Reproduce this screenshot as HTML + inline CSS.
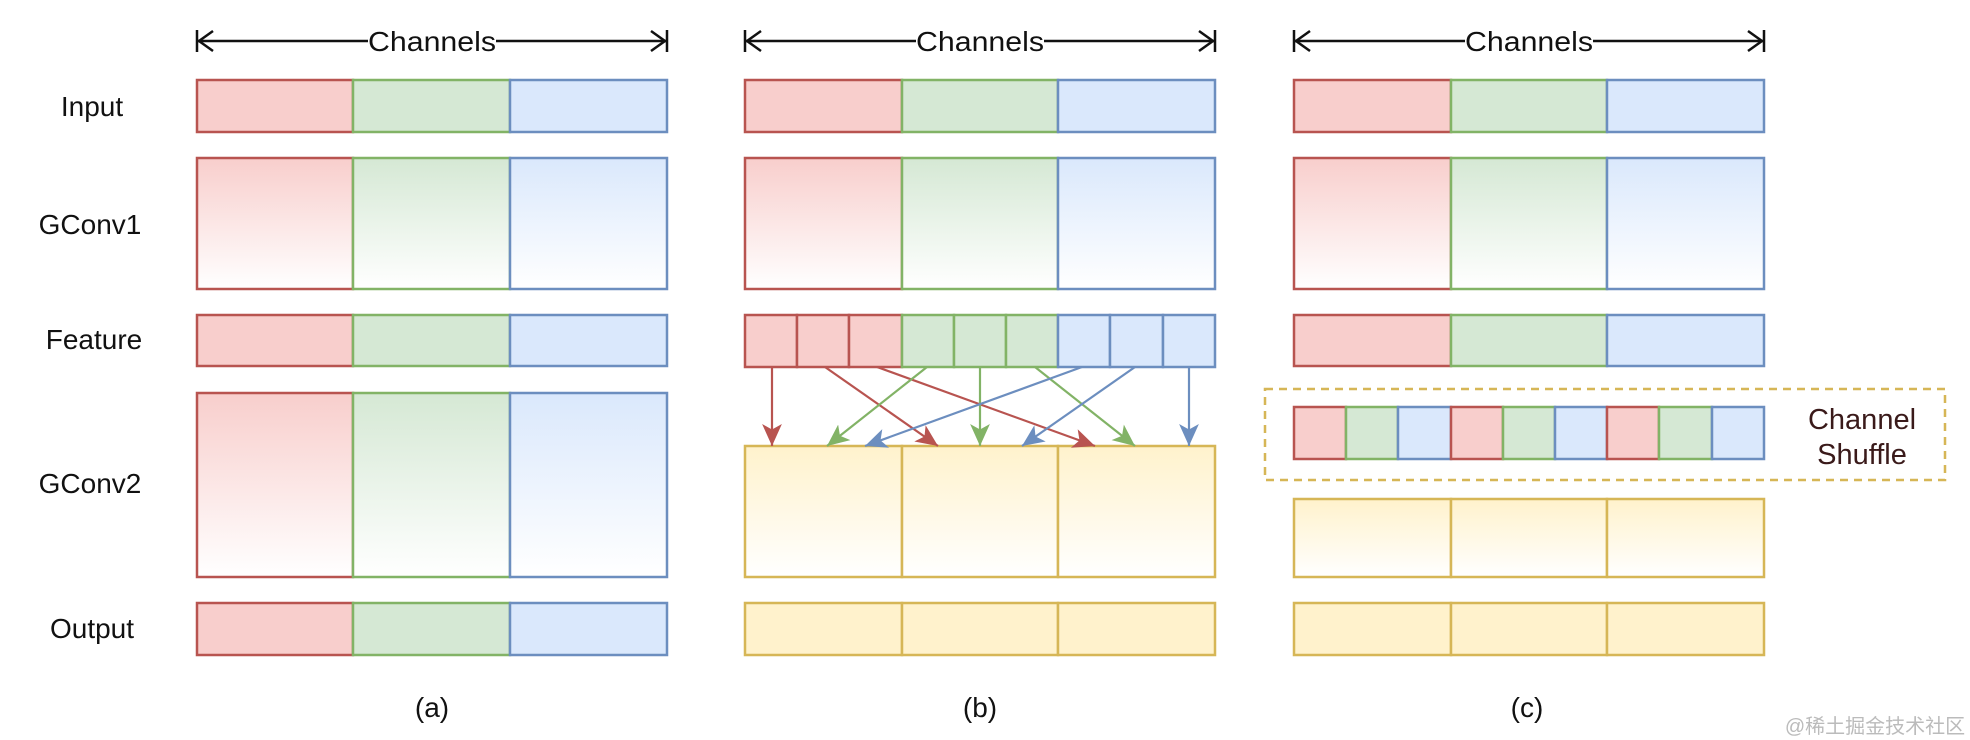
<!DOCTYPE html>
<html><head><meta charset="utf-8"><style>
html,body{margin:0;padding:0;background:#fff;width:1970px;height:740px;overflow:hidden}
svg text{font-family:"Liberation Sans","Noto Sans CJK SC",sans-serif}
</style></head><body>
<svg width="1970" height="740" viewBox="0 0 1970 740" xmlns="http://www.w3.org/2000/svg">
<defs>
<linearGradient id="gr" x1="0" y1="0" x2="0" y2="1"><stop offset="0" stop-color="#f8cecc"/><stop offset="1" stop-color="#fff"/></linearGradient>
<linearGradient id="gg" x1="0" y1="0" x2="0" y2="1"><stop offset="0" stop-color="#d5e8d4"/><stop offset="1" stop-color="#fff"/></linearGradient>
<linearGradient id="gb" x1="0" y1="0" x2="0" y2="1"><stop offset="0" stop-color="#dae8fc"/><stop offset="1" stop-color="#fff"/></linearGradient>
<linearGradient id="gy" x1="0" y1="0" x2="0" y2="1"><stop offset="0" stop-color="#fff2cc"/><stop offset="1" stop-color="#fff"/></linearGradient>
<marker id="mr" viewBox="0 0 20 20" refX="20" refY="10" markerWidth="22" markerHeight="22" orient="auto" markerUnits="userSpaceOnUse"><path d="M0,1 L20,10 L0,19 L5,10 Z" fill="#b85450"/></marker>
<marker id="mg" viewBox="0 0 20 20" refX="20" refY="10" markerWidth="22" markerHeight="22" orient="auto" markerUnits="userSpaceOnUse"><path d="M0,1 L20,10 L0,19 L5,10 Z" fill="#82b366"/></marker>
<marker id="mb" viewBox="0 0 20 20" refX="20" refY="10" markerWidth="22" markerHeight="22" orient="auto" markerUnits="userSpaceOnUse"><path d="M0,1 L20,10 L0,19 L5,10 Z" fill="#6c8ebf"/></marker>
</defs>
<g font-size="28" fill="#111" text-anchor="middle">
<text x="92" y="116">Input</text>
<text x="90" y="234">GConv1</text>
<text x="94" y="349">Feature</text>
<text x="90" y="493">GConv2</text>
<text x="92" y="638">Output</text>
<text x="432" y="717">(a)</text>
<text x="980" y="717">(b)</text>
<text x="1527" y="717">(c)</text>
</g>
<g stroke="#111" stroke-width="2.5" fill="none">
<path d="M197,30 V52 M667,30 V52 M745,30 V52 M1215,30 V52 M1294,30 V52 M1764,30 V52"/>
<path d="M197,41 H368 M496,41 H667 M745,41 H916 M1044,41 H1215 M1294,41 H1465 M1593,41 H1764"/>
<path d="M213,31 L199,41 L213,51 M651,31 L665,41 L651,51 M761,31 L747,41 L761,51 M1199,31 L1213,41 L1199,51 M1310,31 L1296,41 L1310,51 M1748,31 L1762,41 L1748,51"/>
</g>
<g font-size="28" fill="#111" text-anchor="middle">
<text x="432" y="51" textLength="128" lengthAdjust="spacingAndGlyphs">Channels</text><text x="980" y="51" textLength="128" lengthAdjust="spacingAndGlyphs">Channels</text><text x="1529" y="51" textLength="128" lengthAdjust="spacingAndGlyphs">Channels</text>
</g>
<g stroke-width="2.5">
<rect x="197" y="80" width="156" height="52" fill="#f8cecc" stroke="#b85450"/><rect x="353" y="80" width="157" height="52" fill="#d5e8d4" stroke="#82b366"/><rect x="510" y="80" width="157" height="52" fill="#dae8fc" stroke="#6c8ebf"/>
<rect x="197" y="158" width="156" height="131" fill="url(#gr)" stroke="#b85450"/><rect x="353" y="158" width="157" height="131" fill="url(#gg)" stroke="#82b366"/><rect x="510" y="158" width="157" height="131" fill="url(#gb)" stroke="#6c8ebf"/>
<rect x="197" y="315" width="156" height="51" fill="#f8cecc" stroke="#b85450"/><rect x="353" y="315" width="157" height="51" fill="#d5e8d4" stroke="#82b366"/><rect x="510" y="315" width="157" height="51" fill="#dae8fc" stroke="#6c8ebf"/>
<rect x="197" y="393" width="156" height="184" fill="url(#gr)" stroke="#b85450"/><rect x="353" y="393" width="157" height="184" fill="url(#gg)" stroke="#82b366"/><rect x="510" y="393" width="157" height="184" fill="url(#gb)" stroke="#6c8ebf"/>
<rect x="197" y="603" width="156" height="52" fill="#f8cecc" stroke="#b85450"/><rect x="353" y="603" width="157" height="52" fill="#d5e8d4" stroke="#82b366"/><rect x="510" y="603" width="157" height="52" fill="#dae8fc" stroke="#6c8ebf"/>
<rect x="745" y="80" width="157" height="52" fill="#f8cecc" stroke="#b85450"/><rect x="902" y="80" width="156" height="52" fill="#d5e8d4" stroke="#82b366"/><rect x="1058" y="80" width="157" height="52" fill="#dae8fc" stroke="#6c8ebf"/>
<rect x="745" y="158" width="157" height="131" fill="url(#gr)" stroke="#b85450"/><rect x="902" y="158" width="156" height="131" fill="url(#gg)" stroke="#82b366"/><rect x="1058" y="158" width="157" height="131" fill="url(#gb)" stroke="#6c8ebf"/>
<rect x="745" y="315" width="52" height="52" fill="#f8cecc" stroke="#b85450"/><rect x="797" y="315" width="52" height="52" fill="#f8cecc" stroke="#b85450"/><rect x="849" y="315" width="53" height="52" fill="#f8cecc" stroke="#b85450"/>
<rect x="902" y="315" width="52" height="52" fill="#d5e8d4" stroke="#82b366"/><rect x="954" y="315" width="52" height="52" fill="#d5e8d4" stroke="#82b366"/><rect x="1006" y="315" width="52" height="52" fill="#d5e8d4" stroke="#82b366"/>
<rect x="1058" y="315" width="52" height="52" fill="#dae8fc" stroke="#6c8ebf"/><rect x="1110" y="315" width="53" height="52" fill="#dae8fc" stroke="#6c8ebf"/><rect x="1163" y="315" width="52" height="52" fill="#dae8fc" stroke="#6c8ebf"/>
<rect x="745" y="446" width="157" height="131" fill="url(#gy)" stroke="#d6b656"/><rect x="902" y="446" width="156" height="131" fill="url(#gy)" stroke="#d6b656"/><rect x="1058" y="446" width="157" height="131" fill="url(#gy)" stroke="#d6b656"/>
<rect x="745" y="603" width="157" height="52" fill="#fff2cc" stroke="#d6b656"/><rect x="902" y="603" width="156" height="52" fill="#fff2cc" stroke="#d6b656"/><rect x="1058" y="603" width="157" height="52" fill="#fff2cc" stroke="#d6b656"/>
<rect x="1294" y="80" width="157" height="52" fill="#f8cecc" stroke="#b85450"/><rect x="1451" y="80" width="156" height="52" fill="#d5e8d4" stroke="#82b366"/><rect x="1607" y="80" width="157" height="52" fill="#dae8fc" stroke="#6c8ebf"/>
<rect x="1294" y="158" width="157" height="131" fill="url(#gr)" stroke="#b85450"/><rect x="1451" y="158" width="156" height="131" fill="url(#gg)" stroke="#82b366"/><rect x="1607" y="158" width="157" height="131" fill="url(#gb)" stroke="#6c8ebf"/>
<rect x="1294" y="315" width="157" height="51" fill="#f8cecc" stroke="#b85450"/><rect x="1451" y="315" width="156" height="51" fill="#d5e8d4" stroke="#82b366"/><rect x="1607" y="315" width="157" height="51" fill="#dae8fc" stroke="#6c8ebf"/>
<rect x="1294" y="407" width="52" height="52" fill="#f8cecc" stroke="#b85450"/><rect x="1346" y="407" width="52" height="52" fill="#d5e8d4" stroke="#82b366"/><rect x="1398" y="407" width="53" height="52" fill="#dae8fc" stroke="#6c8ebf"/>
<rect x="1451" y="407" width="52" height="52" fill="#f8cecc" stroke="#b85450"/><rect x="1503" y="407" width="52" height="52" fill="#d5e8d4" stroke="#82b366"/><rect x="1555" y="407" width="52" height="52" fill="#dae8fc" stroke="#6c8ebf"/>
<rect x="1607" y="407" width="52" height="52" fill="#f8cecc" stroke="#b85450"/><rect x="1659" y="407" width="53" height="52" fill="#d5e8d4" stroke="#82b366"/><rect x="1712" y="407" width="52" height="52" fill="#dae8fc" stroke="#6c8ebf"/>
<rect x="1294" y="499" width="157" height="78" fill="url(#gy)" stroke="#d6b656"/><rect x="1451" y="499" width="156" height="78" fill="url(#gy)" stroke="#d6b656"/><rect x="1607" y="499" width="157" height="78" fill="url(#gy)" stroke="#d6b656"/>
<rect x="1294" y="603" width="157" height="52" fill="#fff2cc" stroke="#d6b656"/><rect x="1451" y="603" width="156" height="52" fill="#fff2cc" stroke="#d6b656"/><rect x="1607" y="603" width="157" height="52" fill="#fff2cc" stroke="#d6b656"/>
</g>
<rect x="1265" y="389" width="680" height="91" fill="none" stroke="#d6b656" stroke-width="2.5" stroke-dasharray="8,6"/>
<g font-size="29" fill="#3a1a1a" text-anchor="middle"><text x="1862" y="429">Channel</text><text x="1862" y="464">Shuffle</text></g>
<g stroke-width="2.2" fill="none">
<line x1="772" y1="367" x2="772" y2="446" stroke="#b85450" marker-end="url(#mr)"/>
<line x1="825" y1="367" x2="938" y2="446" stroke="#b85450" marker-end="url(#mr)"/>
<line x1="877" y1="367" x2="1095" y2="446" stroke="#b85450" marker-end="url(#mr)"/>
<line x1="927" y1="367" x2="827" y2="446" stroke="#82b366" marker-end="url(#mg)"/>
<line x1="980" y1="367" x2="980" y2="446" stroke="#82b366" marker-end="url(#mg)"/>
<line x1="1035" y1="367" x2="1135" y2="446" stroke="#82b366" marker-end="url(#mg)"/>
<line x1="1082" y1="367" x2="865" y2="446" stroke="#6c8ebf" marker-end="url(#mb)"/>
<line x1="1135" y1="367" x2="1022" y2="446" stroke="#6c8ebf" marker-end="url(#mb)"/>
<line x1="1189" y1="367" x2="1189" y2="446" stroke="#6c8ebf" marker-end="url(#mb)"/>
</g>
<text x="1875" y="733" font-size="20" fill="#bbb" text-anchor="middle">@稀土掘金技术社区</text>
</svg>
</body></html>
